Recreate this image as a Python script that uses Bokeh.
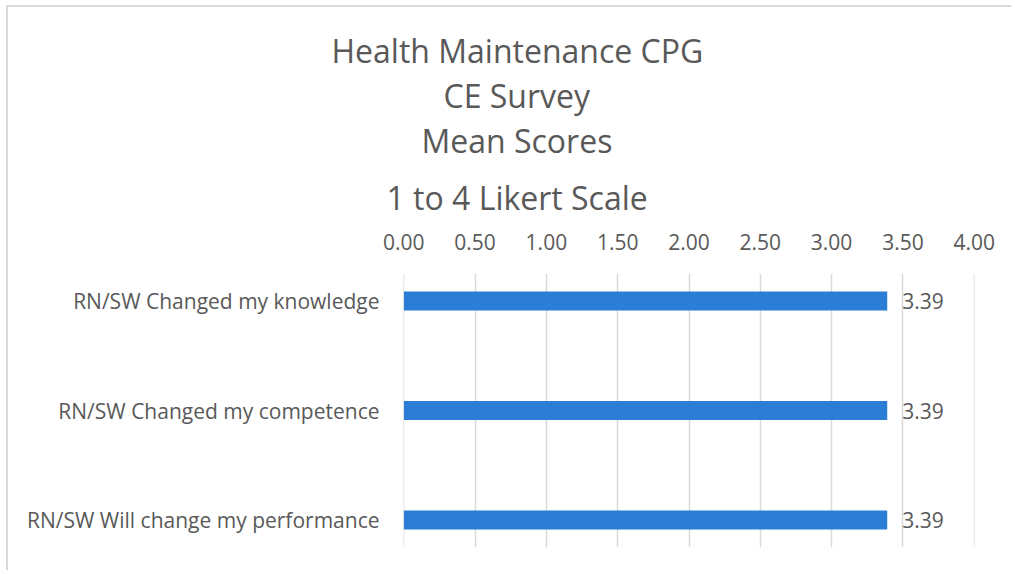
from bokeh.plotting import figure
from bokeh.models import ColumnDataSource, Range1d, FixedTicker, LabelSet, Title, NumeralTickFormatter
from bokeh.core.properties import value
from bokeh.embed import file_html
from bokeh.resources import INLINE

categories = ["RN/SW Changed my knowledge", "RN/SW Changed my competence", "RN/SW Will change my performance"]
values = [3.39, 3.39, 3.39]
value_labels = ["3.39", "3.39", "3.39"]
x_ticks = [0.0, 0.5, 1.0, 1.5, 2.0, 2.5, 3.0, 3.5, 4.0]
title_lines = ["Health Maintenance CPG", "CE Survey", "Mean Scores", "1 to 4 Likert Scale"]

pos = list(range(len(categories)))
src = ColumnDataSource(dict(y=pos, v=values, lab=value_labels))

FONT = "Open Sans"
GRAY = "#595959"
SMALL = "21px"

p = figure(width=1005, height=565, output_backend="svg", toolbar_location=None,
           x_range=Range1d(-0.002, 4.002), y_range=Range1d(2.251, -0.251),
           x_axis_location="above", min_border_left=395, min_border_right=39,
           min_border_top=266, min_border_bottom=25)
p.styles = {"border-left": "2px solid #d9d9d9", "border-top": "2px solid #d9d9d9",
            "margin-left": "6px", "margin-top": "5px"}

# title lines: each line a Title, stacked upward from the axis (last line first);
# horizontal offsets (px from frame left) centre each line over the chart area
title_offsets = [-72, 40, 18, -17]
title_standoffs = [0, 0, 0, 24]
for line, off, so in reversed(list(zip(title_lines, title_offsets, title_standoffs))):
    p.add_layout(Title(text=line, align="left", offset=off, standoff=so, vertical_align="bottom",
                       text_font=FONT, text_font_size="32px", text_font_style="normal",
                       text_color=GRAY), "above")

p.hbar(y="y", right="v", left=0, height=0.1735, source=src, fill_color="#2b7dd6", line_color=None)

labels = LabelSet(x="v", y="y", text="lab", source=src, x_offset=15, text_baseline="middle",
                  text_font=value(FONT), text_font_size=value(SMALL), text_color=GRAY)
p.add_layout(labels)

xa = p.xaxis[0]
xa.ticker = FixedTicker(ticks=x_ticks)
xa.formatter = NumeralTickFormatter(format="0.00")
xa.axis_line_color = None
xa.major_tick_line_color = None
xa.minor_tick_line_color = None
xa.major_tick_out = 0
xa.minor_tick_out = 0
xa.major_label_text_font = FONT
xa.major_label_text_font_size = SMALL
xa.major_label_text_color = GRAY
xa.major_label_standoff = 24

ya = p.yaxis[0]
ya.ticker = FixedTicker(ticks=pos)
ya.major_label_overrides = {i: c for i, c in enumerate(categories)}
ya.axis_line_color = None
ya.major_tick_line_color = None
ya.minor_tick_line_color = None
ya.major_tick_out = 0
ya.minor_tick_out = 0
ya.major_label_text_font = FONT
ya.major_label_text_font_size = SMALL
ya.major_label_text_color = GRAY
ya.major_label_standoff = 24

p.xgrid.grid_line_color = "#d9d9d9"
p.xgrid.grid_line_width = 1.5
p.ygrid.grid_line_color = None
p.outline_line_color = None

open("out.html", "w").write(file_html(p, INLINE))
